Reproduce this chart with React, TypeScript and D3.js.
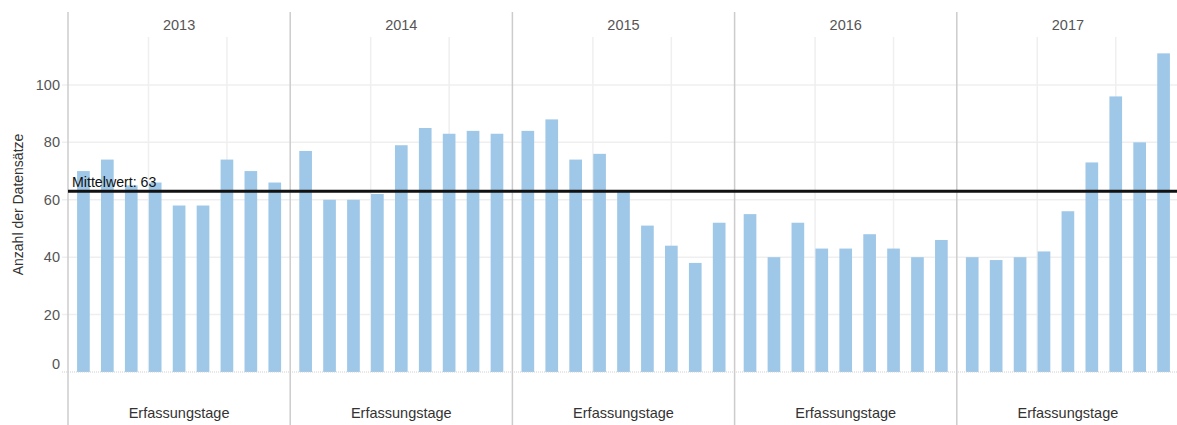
import * as d3 from 'd3'

// Anzahl der Datensätze je Erfassungstag, gruppiert nach Jahr
const YEARS = ['2013', '2014', '2015', '2016', '2017']
const DAYS = [0, 1, 2, 3, 4, 5, 6, 7, 8]
const COUNTS_2013 = [70, 74, 65, 66, 58, 58, 74, 70, 66]
const COUNTS_2014 = [77, 60, 60, 62, 79, 85, 83, 84, 83]
const COUNTS_2015 = [84, 88, 74, 76, 63, 51, 44, 38, 52]
const COUNTS_2016 = [55, 40, 52, 43, 43, 48, 43, 40, 46]
const COUNTS_2017 = [40, 39, 40, 42, 56, 73, 96, 80, 111]
const Y_TICKS = [0, 20, 40, 60, 80, 100]
// Hilfslinien innerhalb eines Jahres, in Einheiten der Erfassungstage
const DAY_GRID = [2.72, 6]
const MEAN_LABEL = 'Mittelwert'
const X_TITLE = 'Erfassungstage'
const Y_TITLE = 'Anzahl der Datensätze'

const W = 1177, H = 425
const FONT = 'Arial, "Liberation Sans", sans-serif'

export default function App() {
  const series = [COUNTS_2013, COUNTS_2014, COUNTS_2015, COUNTS_2016, COUNTS_2017]
  const all = series.flat()
  const mean = Math.round(d3.mean(all) ?? 0)

  const left = 68
  const top = 37
  const bottom = 372
  const panelW = 222.2

  const panels = d3.scaleBand<string>().domain(YEARS).range([left, left + panelW * YEARS.length])
  const bars = d3.scaleBand<number>().domain(DAYS).range([0, panelW])
    .paddingInner(0.47).paddingOuter(0.38)
  // kontinuierliche Achse über die Tagesmitten (für die inneren Gitterlinien)
  const dayLin = d3.scaleLinear()
    .domain([0, DAYS.length - 1])
    .range([bars(0)! + bars.bandwidth() / 2, bars(DAYS.length - 1)! + bars.bandwidth() / 2])
  const y = d3.scaleLinear().domain([0, 116.7]).range([bottom, top])

  const meanY = y(mean)

  return (
    <svg width={W} height={H} style={{ position: 'absolute', left: 0, top: 0, background: '#fff' }}
      fontFamily={FONT}>
      {/* horizontale Gitterlinien */}
      {Y_TICKS.filter(t => t > 0).map(t => (
        <line key={t} x1={62} x2={W} y1={y(t)} y2={y(t)} stroke="#efefef" strokeWidth={1.5} />
      ))}
      {/* vertikale Gitterlinien je Jahr */}
      {YEARS.map(yr => DAY_GRID.map(d => {
        const gx = panels(yr)! + dayLin(d)
        return <line key={yr + d} x1={gx} x2={gx} y1={top} y2={bottom} stroke="#efefef" strokeWidth={1.5} />
      }))}
      {/* Balken */}
      {YEARS.map((yr, i) => series[i].map((v, j) => (
        <rect key={yr + '-' + j} x={panels(yr)! + bars(DAYS[j])!} y={y(v)}
          width={bars.bandwidth()} height={y(0) - y(v)} fill="#9fc8e8" />
      )))}
      {/* Nulllinie */}
      <line x1={62} x2={W} y1={y(0)} y2={y(0)} stroke="#cfcfcf" strokeWidth={1} strokeDasharray="1,1" />
      {/* Jahrestrenner und linke Achse */}
      {YEARS.map(yr => (
        <line key={'sep' + yr} x1={panels(yr)!} x2={panels(yr)!} y1={12} y2={H}
          stroke="#cccccc" strokeWidth={1.5} />
      ))}
      {/* Jahresbeschriftungen oben */}
      {YEARS.map(yr => (
        <text key={'h' + yr} x={panels(yr)! + panels.bandwidth() / 2} y={25} dy="0.35em"
          textAnchor="middle" fontSize={14.5} fill="#555">{yr}</text>
      ))}
      {/* Achsentitel unten */}
      {YEARS.map(yr => (
        <text key={'x' + yr} x={panels(yr)! + panels.bandwidth() / 2} y={413} dy="0.35em"
          textAnchor="middle" fontSize={14.5} fill="#333">{X_TITLE}</text>
      ))}
      {/* y-Achse */}
      {Y_TICKS.map(t => (
        <text key={'t' + t} x={60} y={t === 0 ? y(t) - 8.5 : y(t)} dy="0.35em" textAnchor="end"
          fontSize={14.5} fill="#555">{t}</text>
      ))}
      <text transform={`translate(18,${(top + bottom) / 2}) rotate(-90)`} dy="0.35em"
        textAnchor="middle" fontSize={14} fill="#333">{Y_TITLE}</text>
      {/* Mittelwertlinie */}
      <line x1={left} x2={W} y1={meanY} y2={meanY} stroke="#111" strokeWidth={3} />
      <text x={72} y={meanY - 4.5} fontSize={14.2} fill="#111">{`${MEAN_LABEL}: ${mean}`}</text>
    </svg>
  )
}
